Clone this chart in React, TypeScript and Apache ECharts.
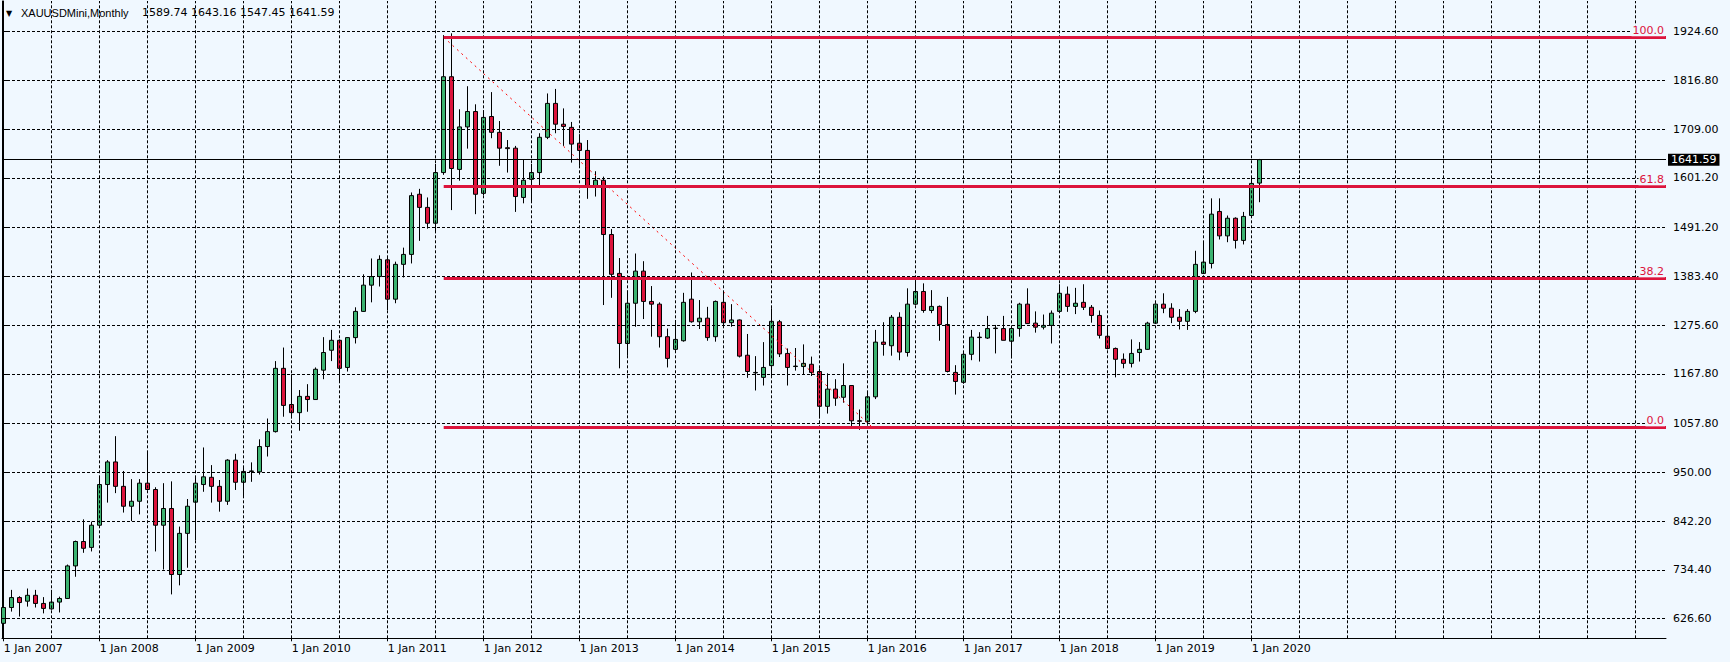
import React, { useEffect, useRef } from "react";
import * as echarts from "echarts";

const symbolName = "XAUUSDMini";
const periodName = "Monthly";
const startYear = 2007;

// Monthly OHLC, Jan 2007 .. Feb 2020
const opens = [
  616, 651, 673, 665, 678, 660, 648, 663, 671, 743, 797, 784,
  833, 923, 973, 919, 875, 886, 926, 912, 833, 870, 724, 815,
  884, 923, 939, 919, 886, 977, 928, 952, 951, 1007, 1040, 1180,
  1100, 1082, 1118, 1111, 1176, 1220, 1242, 1182, 1248, 1306, 1364, 1383,
  1420, 1333, 1410, 1432, 1565, 1536, 1501, 1613, 1825, 1620, 1714, 1748,
  1567, 1737, 1702, 1668, 1667, 1558, 1598, 1613, 1691, 1766, 1720, 1713,
  1678, 1662, 1580, 1596, 1476, 1390, 1235, 1324, 1395, 1328, 1322, 1250,
  1222, 1241, 1333, 1283, 1291, 1250, 1326, 1281, 1287, 1209, 1170, 1160,
  1186, 1283, 1213, 1184, 1184, 1189, 1173, 1096, 1134, 1116, 1142, 1064,
  1062, 1117, 1238, 1230, 1293, 1215, 1322, 1350, 1308, 1317, 1277, 1171,
  1149, 1211, 1249, 1247, 1268, 1268, 1240, 1268, 1322, 1280, 1271, 1275,
  1306, 1344, 1317, 1326, 1315, 1297, 1251, 1224, 1200, 1191, 1215, 1222,
  1280, 1322, 1313, 1293, 1284, 1306, 1390, 1412, 1527, 1473, 1512, 1463,
  1518, 1589.74,
];
const highs = [
  655, 690, 676, 693, 690, 674, 690, 675, 746, 799, 846, 841,
  940, 977, 1030, 953, 935, 935, 995, 917, 926, 930, 830, 891,
  940, 1005, 966, 933, 979, 991, 960, 972, 1023, 1069, 1196, 1226,
  1167, 1132, 1145, 1182, 1249, 1265, 1244, 1249, 1315, 1388, 1423, 1430,
  1425, 1416, 1447, 1569, 1577, 1558, 1632, 1917, 1921, 1753, 1804, 1764,
  1751, 1791, 1727, 1685, 1672, 1641, 1632, 1700, 1788, 1798, 1755, 1725,
  1698, 1685, 1616, 1604, 1488, 1424, 1352, 1434, 1417, 1362, 1326, 1268,
  1287, 1347, 1392, 1331, 1316, 1330, 1351, 1322, 1288, 1256, 1207, 1238,
  1313, 1287, 1224, 1225, 1233, 1206, 1180, 1169, 1156, 1191, 1143, 1089,
  1128, 1265, 1282, 1298, 1304, 1357, 1375, 1368, 1353, 1319, 1338, 1187,
  1218, 1265, 1260, 1296, 1276, 1296, 1270, 1325, 1357, 1306, 1299, 1308,
  1366, 1361, 1358, 1366, 1320, 1308, 1272, 1226, 1213, 1244, 1238, 1283,
  1324, 1346, 1324, 1311, 1311, 1440, 1459, 1556, 1556, 1518, 1514, 1526,
  1604, 1643.16,
];
const lows = [
  613, 642, 631, 653, 651, 638, 646, 640, 670, 719, 772, 775,
  832, 883, 904, 861, 842, 857, 910, 775, 735, 680, 700, 739,
  800, 907, 883, 863, 878, 911, 896, 929, 945, 985, 1038, 1073,
  1069, 1042, 1084, 1110, 1156, 1196, 1149, 1173, 1235, 1305, 1326, 1361,
  1309, 1324, 1381, 1412, 1462, 1489, 1479, 1608, 1530, 1595, 1666, 1521,
  1563, 1689, 1628, 1613, 1526, 1545, 1546, 1584, 1687, 1700, 1672, 1635,
  1628, 1555, 1560, 1320, 1336, 1180, 1208, 1272, 1289, 1250, 1226, 1182,
  1219, 1239, 1281, 1267, 1241, 1239, 1274, 1272, 1204, 1159, 1131, 1142,
  1163, 1205, 1142, 1175, 1167, 1163, 1069, 1080, 1097, 1104, 1051, 1044,
  1055, 1112, 1208, 1208, 1198, 1206, 1320, 1303, 1302, 1241, 1171, 1122,
  1146, 1198, 1195, 1245, 1213, 1242, 1202, 1250, 1278, 1259, 1266, 1235,
  1303, 1305, 1300, 1309, 1281, 1246, 1222, 1160, 1180, 1182, 1195, 1221,
  1278, 1302, 1280, 1266, 1265, 1302, 1389, 1401, 1465, 1459, 1445, 1454,
  1517, 1547.45,
];
const closes = [
  651, 673, 662, 678, 660, 649, 663, 671, 743, 797, 782, 833,
  923, 973, 919, 875, 886, 926, 912, 833, 870, 724, 815, 875,
  926, 940, 919, 886, 977, 928, 952, 953, 1007, 1040, 1180, 1098,
  1082, 1118, 1111, 1178, 1215, 1242, 1180, 1248, 1306, 1364, 1383, 1421,
  1333, 1410, 1432, 1562, 1536, 1501, 1613, 1825, 1622, 1714, 1748, 1565,
  1735, 1702, 1667, 1666, 1560, 1596, 1613, 1691, 1766, 1720, 1715, 1676,
  1662, 1580, 1596, 1476, 1388, 1235, 1324, 1395, 1328, 1322, 1250, 1202,
  1244, 1326, 1283, 1291, 1248, 1328, 1281, 1287, 1207, 1173, 1171, 1182,
  1284, 1212, 1182, 1185, 1191, 1171, 1096, 1134, 1114, 1142, 1064, 1063,
  1117, 1238, 1233, 1293, 1216, 1322, 1350, 1308, 1317, 1277, 1173, 1151,
  1211, 1249, 1248, 1268, 1269, 1242, 1268, 1322, 1279, 1271, 1275, 1302,
  1346, 1317, 1324, 1315, 1297, 1253, 1224, 1200, 1191, 1213, 1222, 1280,
  1322, 1313, 1293, 1284, 1306, 1410, 1415, 1521, 1473, 1512, 1463, 1516,
  1589, 1641.59,
];

// Price-axis tick labels as printed on the chart
const priceTicks = [1924.6, 1816.8, 1709.0, 1601.2, 1491.2, 1383.4, 1275.6, 1167.8, 1057.8, 950.0, 842.2, 734.4, 626.6];
// Bars carrying a year label (every January)
const yearLabelBars = [0, 12, 24, 36, 48, 60, 72, 84, 96, 108, 120, 132, 144, 156];

// Fibonacci retracement drawn on the chart
const fibHigh = 1912.2;
const fibLow = 1049.5;
const fibLevels = [100, 61.8, 38.2, 0];
const fibStartBar = 55;
const fibEndBar = 108.6;

const BG = "#F0F8FF";
const BULL = "#3CB371";
const BEAR = "#DC143C";
const FONT = "DejaVu Sans";

export default function App() {
  const ref = useRef<HTMLDivElement>(null);

  useEffect(() => {
    if (!ref.current) return;
    const chart = echarts.init(ref.current, undefined, { renderer: "svg" });

    const n = closes.length;
    const last = n - 1;
    const candleData = opens.map((o, i) => [i, o, closes[i], lows[i], highs[i]]);

    const plotLeft = 2;
    const plotWidth = 1664;
    const barStep = 8;
    const xMin = -0.2125;
    const xMax = xMin + plotWidth / barStep;

    const vGrid: number[] = [];
    for (let b = 6; b < xMax; b += 6) vGrid.push(b);

    const fibPrice = (lvl: number) => fibLow + ((fibHigh - fibLow) * lvl) / 100;

    const option: any = {
      animation: false,
      backgroundColor: BG,
      grid: {
        left: plotLeft,
        top: 1,
        width: plotWidth,
        height: 637.3,
        containLabel: false,
        outerBoundsMode: "none",
      },
      xAxis: [
        {
          type: "value",
          min: xMin,
          max: xMax,
          axisLine: { show: true, onZero: false, lineStyle: { color: "#000", width: 1 } },
          axisTick: {
            show: true,
            customValues: yearLabelBars,
            length: 3,
            lineStyle: { color: "#000" },
          },
          axisLabel: {
            show: true,
            customValues: yearLabelBars,
            formatter: (v: number) => `1 Jan ${startYear + Math.round(v / 12)}`,
            align: "left",
            margin: 5,
            color: "#000",
            fontFamily: FONT,
            fontSize: 11,
          },
          splitLine: { show: false },
        },
      ],
      yAxis: [
        {
          type: "value",
          position: "right",
          min: 582.9,
          max: 1992.5,
          axisLine: { show: true, lineStyle: { color: "#000", width: 1 } },
          axisTick: { show: true, customValues: priceTicks, length: 4, lineStyle: { color: "#000" } },
          axisLabel: {
            show: true,
            customValues: priceTicks,
            formatter: (v: number) => v.toFixed(2),
            margin: 7,
            color: "#000",
            fontFamily: FONT,
            fontSize: 11,
          },
          splitLine: { show: false },
        },
        {
          type: "value",
          position: "left",
          min: 582.9,
          max: 1992.5,
          axisLine: { show: true, lineStyle: { color: "#000", width: 1 } },
          axisTick: { show: false },
          axisLabel: { show: false },
          splitLine: { show: false },
        },
      ],
      graphic: [
        {
          type: "text",
          left: 6,
          top: 9,
          style: { text: "▼", font: `8px "${FONT}"`, fill: "#000" },
        },
        {
          type: "text",
          left: 21,
          top: 7,
          style: { text: `${symbolName},${periodName}`, font: `11px "Liberation Sans"`, fill: "#000" },
        },
        {
          type: "text",
          left: 142,
          top: 7,
          style: {
            text: [opens[last], highs[last], lows[last], closes[last]].map((v) => v.toFixed(2)).join(" "),
            font: `11px "${FONT}"`,
            fill: "#000",
          },
        },
      ],
      series: [
        {
          name: "grid",
          type: "line",
          data: [],
          z: 1,
          silent: true,
          markLine: {
            silent: true,
            symbol: ["none", "none"],
            animation: false,
            label: { show: false },
            lineStyle: { color: "#000", width: 1, type: [3, 2] },
            data: [
              ...vGrid.map((b) => ({ xAxis: b })),
              ...priceTicks.map((p) => ({ yAxis: p })),
            ],
          },
        },
        {
          name: symbolName,
          type: "candlestick",
          data: candleData,
          encode: { x: 0, y: [1, 2, 3, 4] },
          barWidth: 4,
          z: 3,
          itemStyle: {
            color: BULL,
            color0: BEAR,
            borderColor: "#000",
            borderColor0: "#000",
            borderColorDoji: "#000",
            borderWidth: 1,
          },
        },
        {
          name: "fibDiagonal",
          type: "line",
          data: [
            [fibStartBar, fibHigh],
            [fibEndBar, fibLow],
          ],
          symbol: "none",
          silent: true,
          z: 4,
          lineStyle: { color: "#FF0000", width: 1, type: [2, 4] },
        },
        {
          name: "fib",
          type: "line",
          data: [],
          z: 5,
          silent: true,
          markLine: {
            silent: true,
            symbol: ["none", "none"],
            animation: false,
            lineStyle: { color: BEAR, width: 3, type: "solid" },
            data: fibLevels.map((lvl) => [
              {
                coord: [fibStartBar, fibPrice(lvl)],
                label: {
                  show: true,
                  position: "insideEndTop",
                  formatter: lvl.toFixed(1),
                  color: BEAR,
                  fontFamily: FONT,
                  fontSize: 11,
                  backgroundColor: BG,
                  padding: [0, 1, 0, 1],
                  distance: [1, 1],
                },
              },
              { coord: [xMax, fibPrice(lvl)] },
            ]),
          },
        },
        {
          name: "lastPrice",
          type: "line",
          data: [],
          z: 6,
          silent: true,
          markLine: {
            silent: true,
            symbol: ["none", "none"],
            animation: false,
            lineStyle: { color: "#000", width: 1, type: "solid" },
            label: {
              show: true,
              position: "end",
              formatter: closes[last].toFixed(2),
              color: "#fff",
              backgroundColor: "#000",
              padding: [1, 3, 0, 3],
              distance: 2,
              fontFamily: FONT,
              fontSize: 11,
            },
            data: [{ yAxis: closes[last] }],
          },
        },
      ],
    };

    chart.setOption(option);
    return () => chart.dispose();
  }, []);

  return (
    <div
      ref={ref}
      style={{ position: "fixed", left: 0, top: 0, width: 1730, height: 662, background: BG }}
    />
  );
}
